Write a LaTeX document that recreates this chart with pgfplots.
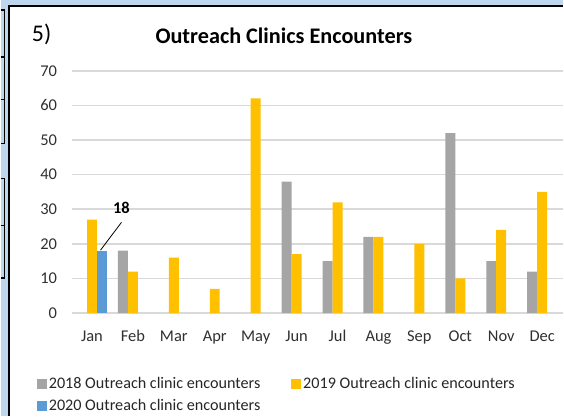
\documentclass[border=0pt]{standalone}
\usepackage{fontspec}
\setmainfont{Carlito}
\usepackage{pgfplots}
\pgfplotsset{compat=1.18}
\definecolor{gA}{HTML}{A5A5A5}
\definecolor{gold}{HTML}{FFC000}
\definecolor{blu}{HTML}{5B9BD5}
\definecolor{bgblue}{HTML}{BDD7EE}
\definecolor{gridc}{HTML}{D9D9D9}
\definecolor{txt}{HTML}{303030}
\begin{document}
\begin{tikzpicture}[x=1pt,y=1pt]
\fill[bgblue] (0,0) rectangle (564,417);
\fill[white] (8,0) rectangle (564,411);
\draw[black, line width=2pt] (8,0) -- (8,411) -- (564,411);
\draw[black, line width=1.5pt] (0,407) -- (4,407) -- (4,273) -- (0,273);
\draw[black, line width=1.5pt] (0,360) -- (4,360);
\draw[black, line width=1.5pt] (0,317) -- (4,317);
\draw[black, line width=1.5pt] (0,238) -- (4,238) -- (4,138) -- (0,138);
\draw[black, line width=1.5pt] (0,191) -- (4,191);
\node[font=\fontsize{24}{28}\selectfont, anchor=center] at (41,382) {5)};
\node[font=\fontsize{22.3}{26}\selectfont\bfseries, anchor=center] at (284,381) {Outreach Clinics Encounters};
\begin{axis}[
  at={(71pt,103pt)}, anchor=south west,
  scale only axis, width=492.6pt, height=243pt,
  xmin=-0.5, xmax=11.5, ymin=0, ymax=70,
  ytick={0,10,...,70},
  xtick={0,...,11},
  xticklabels={Jan,Feb,Mar,Apr,May,Jun,Jul,Aug,Sep,Oct,Nov,Dec},
  ymajorgrids, grid style={gridc, line width=1.5pt},
  axis line style={draw=none}, major tick length=0pt,
  ticklabel style={font=\fontsize{16.5}{19}\selectfont, text=txt},
  /pgf/number format/assume math mode=true,
  yticklabel style={xshift=-11pt},
  xticklabel style={yshift=-14pt},
  clip=false,
  legend columns=2,
  legend cell align=left,
  legend style={draw=none, fill=none, at={(-0.071,-0.258)}, anchor=north west,
    font=\fontsize{16.2}{19}\selectfont, text=black!85, inner xsep=0pt, inner ysep=0pt,
    row sep=5pt,
    /tikz/every odd column/.append style={column sep=0pt},
    /tikz/every even column/.append style={column sep=29pt}},
  legend image code/.code={\fill[#1] (0pt,-5pt) rectangle (10pt,5pt);},
]
\addplot[ybar, bar width=10pt, bar shift=-10pt, fill=gA, draw=none]
  coordinates {(1,18) (5,38) (6,15) (7,22) (9,52) (10,15) (11,12)};
\addlegendentry{2018 Outreach clinic encounters}
\addplot[ybar, bar width=10pt, bar shift=0pt, fill=gold, draw=none]
  coordinates {(0,27) (1,12) (2,16) (3,7) (4,62) (5,17) (6,32) (7,22) (8,20) (9,10) (10,24) (11,35)};
\addlegendentry{2019 Outreach clinic encounters}
\addplot[ybar, bar width=10pt, bar shift=10pt, fill=blu, draw=none]
  coordinates {(0,18)};
\addlegendentry{2020 Outreach clinic encounters}
\draw[black, line width=0.8pt] (axis cs:0.72,26.2) -- (axis cs:0.207,18.15);
\node[font=\fontsize{16.5}{19}\selectfont\bfseries, anchor=center] at (axis cs:0.72,30.5) {18};
\end{axis}
\end{tikzpicture}
\end{document}
